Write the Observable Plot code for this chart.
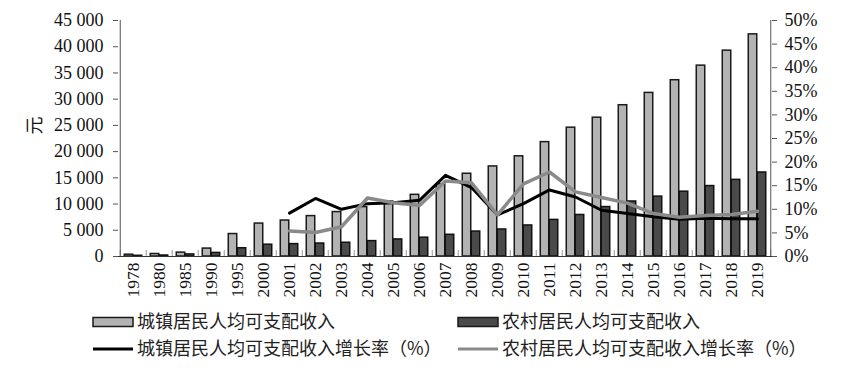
<!DOCTYPE html>
<html><head><meta charset="utf-8">
<script src="https://cdn.jsdelivr.net/npm/d3@7"></script>
<script src="https://cdn.jsdelivr.net/npm/@observablehq/plot@0.6"></script>
<style>
body{margin:0;background:#fff;}
#wrap{position:relative;width:858px;height:371px;overflow:hidden;font-family:"Liberation Serif","Noto Sans CJK SC",serif;}
#wrap svg{position:absolute;left:0;top:0;}
#wrap g[aria-label="x-axis tick label"]{font-size:17.5px !important;}
#wrap g[aria-label="x-axis tick label"] text{font-size:17.5px !important;}
</style></head>
<body><div id="wrap"></div>
<script>
const years = ["1978","1980","1985","1990","1995","2000","2001","2002","2003","2004","2005","2006","2007","2008","2009","2010","2011","2012","2013","2014","2015","2016","2017","2018","2019"];
const urbanIncome = [343,478,739,1510,4283,6280,6860,7703,8472,9422,10493,11759,13786,15781,17175,19109,21810,24565,26467,28844,31195,33616,36396,39251,42359];
const ruralIncome = [134,191,398,686,1578,2253,2366,2476,2622,2936,3255,3587,4140,4761,5153,5919,6977,7917,9430,10489,11422,12363,13432,14617,16021];
const growthYears = ["2001","2002","2003","2004","2005","2006","2007","2008","2009","2010","2011","2012","2013","2014","2015","2016","2017","2018","2019"];
const urbanGrowth = [9.2,12.3,10.0,11.2,11.4,11.9,17.2,14.6,8.8,11.2,14.1,12.6,9.8,9.1,8.4,7.9,8.1,8.0,8.0];
const ruralGrowth = [5.4,5.1,6.3,12.4,11.4,10.8,16.0,15.6,8.8,15.4,17.9,13.7,12.5,11.3,9.1,8.3,8.7,8.9,9.6];
const leftTicks = [0,5000,10000,15000,20000,25000,30000,35000,40000,45000];
const rightTicks = [0,5,10,15,20,25,30,35,40,45,50];
const legendLabels = ["城镇居民人均可支配收入","农村居民人均可支配收入","城镇居民人均可支配收入增长率（%）","农村居民人均可支配收入增长率（%）"];
const yLabel = "元";

const W = 858, H = 305, mL = 113, mR = 82;
const bw = (W - mL - mR) / years.length;
const barW = 9;
const outer = (bw - 2*barW) / 2;
const pctScale = 45000 / 50;
const fmt = d3.formatLocale({thousands:" ", grouping:[3], decimal:".", currency:["",""]}).format(",");

const incomeRows = years.map((y,i)=>({year:y, urban:urbanIncome[i], rural:ruralIncome[i]}));
const growthRows = growthYears.map((y,i)=>({year:y, u:urbanGrowth[i]*pctScale, r:ruralGrowth[i]*pctScale}));

const chart = Plot.plot({
  width: W, height: H,
  marginTop: 20, marginBottom: 49, marginLeft: mL, marginRight: mR,
  style: {fontFamily: '"Liberation Serif","Noto Sans CJK SC",serif', fontSize: "18px", color: "#111", background: "transparent"},
  x: {domain: years, padding: 0, label: null},
  y: {domain: [0, 45000], label: null},
  marks: [
    Plot.barY(incomeRows, {x:"year", y:"urban", fill:"#b3b3b3", stroke:"#1a1a1a", strokeWidth:1.5, insetLeft: outer, insetRight: outer + barW}),
    Plot.barY(incomeRows, {x:"year", y:"rural", fill:"#4a4a4a", stroke:"#111", strokeWidth:1.5, insetLeft: outer + barW, insetRight: outer}),
    Plot.ruleX(years, {x: d=>d, y1: 0, y2: 1150, dx: -bw/2, stroke:"#999", strokeWidth:1}),
    Plot.ruleX([years[years.length-1]], {x: d=>d, y1: 0, y2: 1150, dx: bw/2, stroke:"#999", strokeWidth:1}),
    Plot.lineY(growthRows, {x:"year", y:"u", stroke:"#000", strokeWidth:3}),
    Plot.lineY(growthRows, {x:"year", y:"r", stroke:"#8a8a8a", strokeWidth:3.5}),
    Plot.ruleY([0], {stroke:"#333", strokeWidth:1.2}),
    Plot.axisY({anchor:"left", ticks: leftTicks, tickFormat: fmt, tickSize: -5, tickPadding: 15, stroke:"#555", label:null}),
    Plot.axisY({anchor:"right", ticks: rightTicks.map(v=>v*pctScale), tickFormat: d => Math.round(d/pctScale) + "%", tickSize: -5, tickPadding: 13, stroke:"#555", label:null}),
    Plot.ruleX([0], {x: ()=>years[0], y1:0, y2:45000, dx: -bw/2, stroke:"#555"}),
    Plot.ruleX([0], {x: ()=>years[years.length-1], y1:0, y2:45000, dx: bw/2, stroke:"#555"}),
    Plot.axisX({tickRotate: -90, tickSize: 0, tickPadding: 6, fontSize: "17.5px", label: null}),
    Plot.text([yLabel], {frameAnchor:"left", dx: -78, dy: -4, rotate: -90, fontSize: 18, text: d=>d})
  ]
});
const wrap = document.getElementById("wrap");
wrap.appendChild(chart);

const ns = "http://www.w3.org/2000/svg";
const leg = document.createElementNS(ns, "svg");
leg.setAttribute("width", W); leg.setAttribute("height", 371);
leg.style.fontFamily = '"Noto Sans CJK SC","Liberation Serif",serif';
const items = [
  {x:93, y:322, type:"rect", fill:"#b3b3b3", label:legendLabels[0]},
  {x:458, y:322, type:"rect", fill:"#4a4a4a", label:legendLabels[1]},
  {x:93, y:349, type:"line", fill:"#000", label:legendLabels[2]},
  {x:458, y:349, type:"line", fill:"#8a8a8a", label:legendLabels[3]}
];
for (const it of items) {
  if (it.type === "rect") {
    const r = document.createElementNS(ns, "rect");
    r.setAttribute("x", it.x); r.setAttribute("y", it.y-4.5); r.setAttribute("width", 40); r.setAttribute("height", 9);
    r.setAttribute("fill", it.fill); r.setAttribute("stroke", "#1a1a1a"); r.setAttribute("stroke-width", 1.5);
    leg.appendChild(r);
  } else {
    const l = document.createElementNS(ns, "line");
    l.setAttribute("x1", it.x); l.setAttribute("x2", it.x+40); l.setAttribute("y1", it.y); l.setAttribute("y2", it.y);
    l.setAttribute("stroke", it.fill); l.setAttribute("stroke-width", 3);
    leg.appendChild(l);
  }
  const t = document.createElementNS(ns, "text");
  t.setAttribute("x", it.x+44); t.setAttribute("y", it.y); t.setAttribute("dy", "0.35em");
  t.setAttribute("font-size", 18); t.setAttribute("fill", "#222");
  t.textContent = it.label;
  leg.appendChild(t);
}
wrap.appendChild(leg);
</script>
</body></html>
